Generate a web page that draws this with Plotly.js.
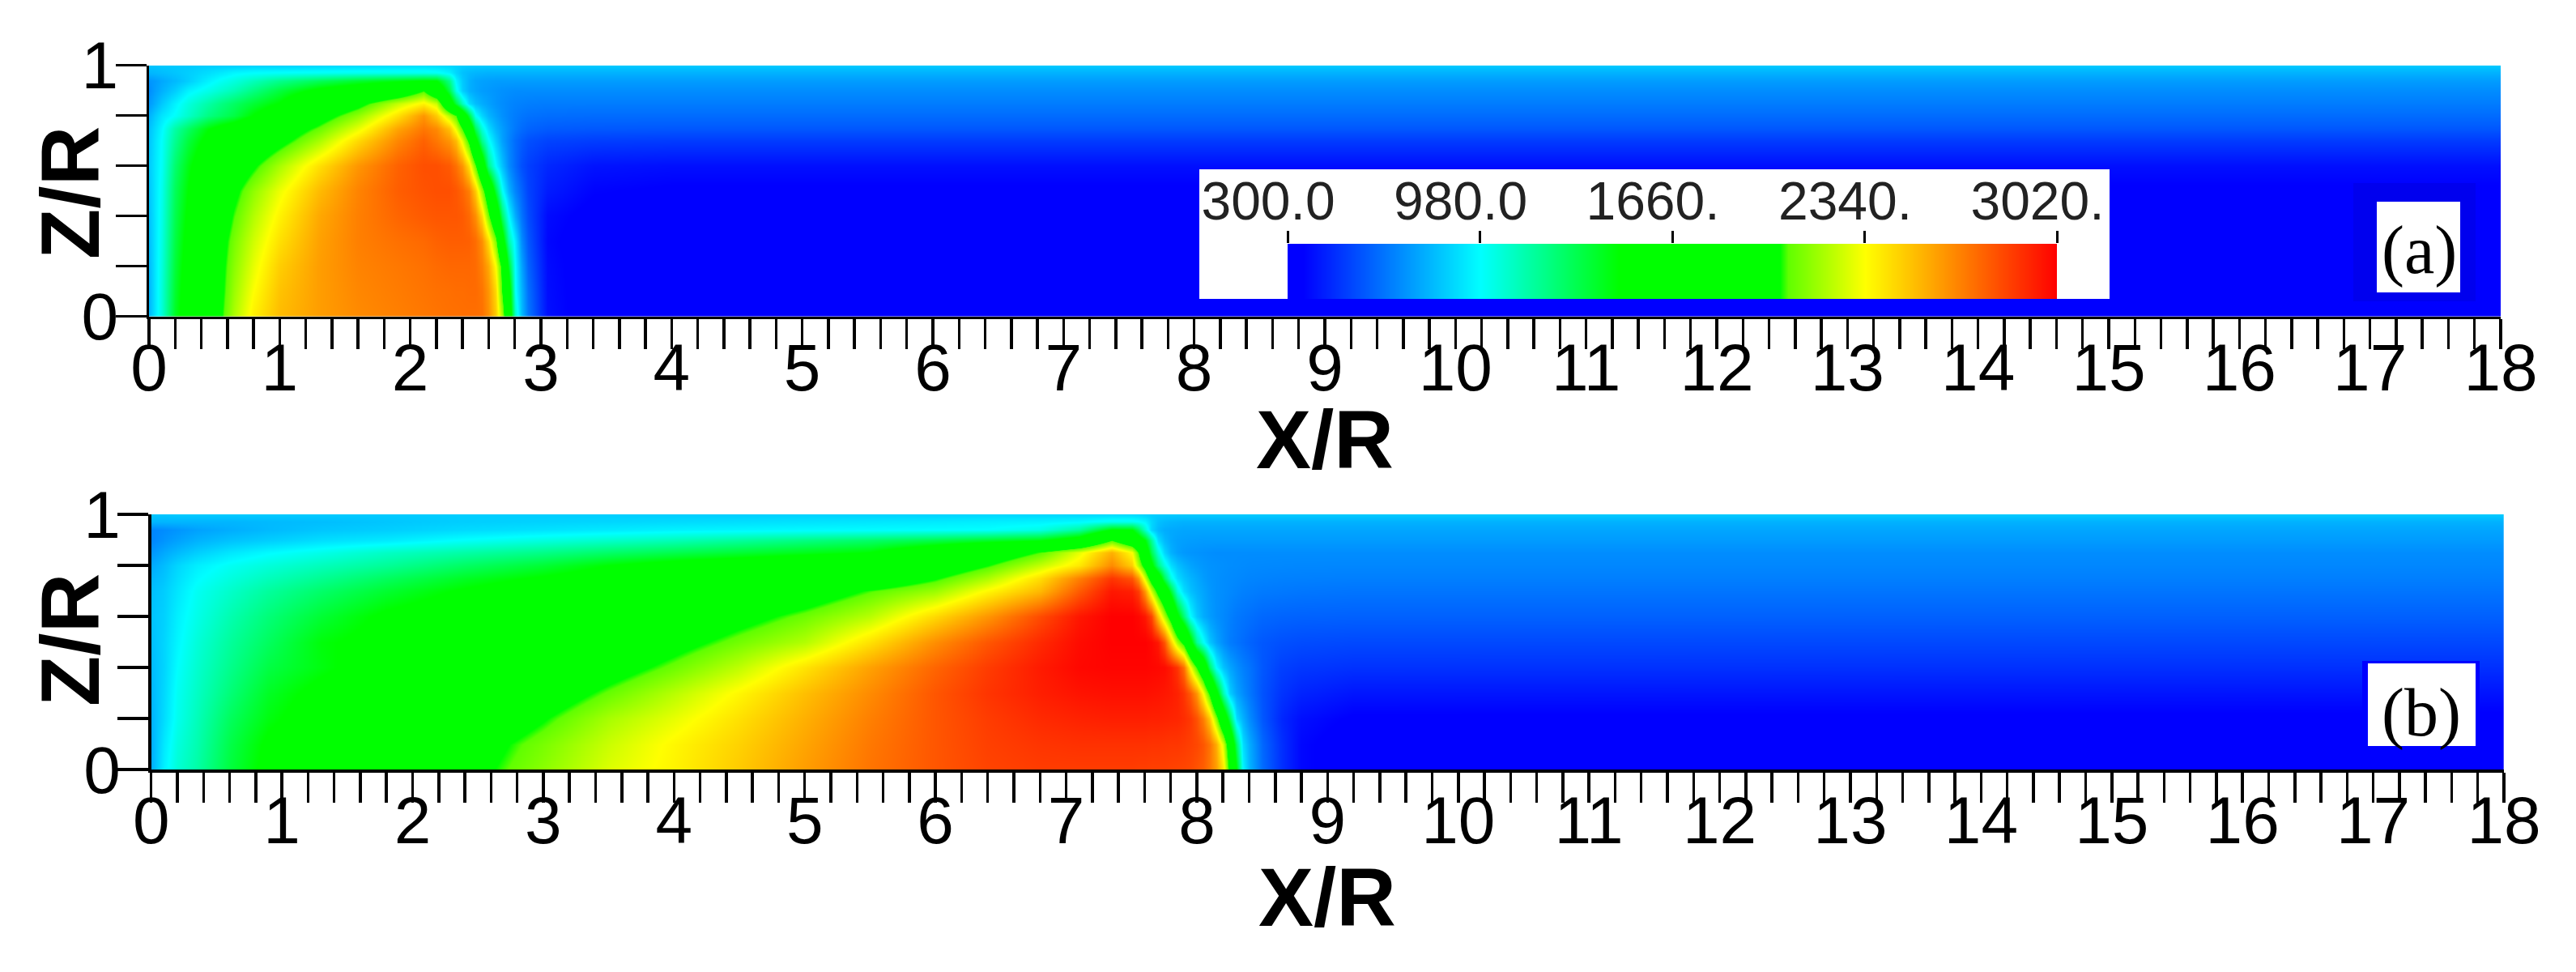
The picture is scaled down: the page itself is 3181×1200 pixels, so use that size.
<!DOCTYPE html>
<html><head><meta charset="utf-8">
<script src="https://cdn.plot.ly/plotly-3.0.1.min.js"></script>
<style>html,body{margin:0;padding:0;background:#fff}</style></head>
<body><div id="chart" style="width:3181px;height:1200px"></div>
<script>
const zRows = [0,.1,.2,.3,.4,.5,.6,.7,.75,.8,.85,.9,.94,.97,1];
const xColsA = [0,.05,.1,.2,.3,.45,.55,.65,.8,1,1.3,1.6,1.9,2.1,2.2,2.3,2.35,2.4,2.45,2.5,2.55,2.6,2.65,2.7,2.75,2.8,2.85,2.9,3.05,3.4,4,18];
const tempA = [
[800,930,1060,1400,1600,1900,2030,2200,2380,2520,2600,2650,2680, 2700,2710,2720,2720,2725,2725,2725,2720,2640,2480,2190,1700,1100,820,650,390,310,300,300],
[800,930,1060,1380,1580,1880,2010,2170,2340,2500,2600,2660,2690, 2710,2720,2725,2730,2730,2735,2735,2710,2620,2440,2040,1620,1000,800,630,385,310,300,300],
[810,930,1050,1360,1560,1860,2000,2140,2300,2470,2600,2670,2700, 2720,2735,2745,2745,2745,2745,2735,2680,2570,2340,1980,1400,980,760,600,380,310,300,300],
[820,930,1040,1340,1530,1830,1980,2110,2260,2420,2590,2680,2720, 2740,2760,2770,2770,2770,2765,2730,2640,2430,2120,1600,1150,940,700,570,370,310,300,300],
[830,930,1030,1320,1500,1780,1930,2060,2210,2370,2570,2680,2750, 2780,2790,2790,2790,2780,2740,2640,2440,2100,1740,1280,980,780,640,540,380,330,320,320],
[840,930,1020,1300,1470,1720,1860,2000,2150,2310,2520,2670,2770, 2800,2810,2810,2790,2750,2680,2480,2160,1820,1360,1000,800,680,600,520,420,360,345,345],
[850,930,1000,1260,1430,1650,1780,1900,2020,2190,2420,2620,2760, 2810,2810,2780,2720,2620,2420,2080,1680,1220,980,830,700,620,550,510,450,400,390,390],
[840,920,990,1190,1350,1530,1620,1700,1850,1980,2190,2440,2660, 2760,2700,2620,2520,2290,2000,1560,1200,1000,860,750,680,620,580,550,520,505,500,500],
[830,900,970,1150,1280,1460,1540,1600,1740,1900,2080,2300,2580, 2700,2650,2500,2300,2040,1750,1300,1050,900,800,740,690,650,620,600,580,572,570,570],
[790,860,920,990,1080,1220,1280,1340,1480,1640,1950,2150,2420, 2620,2480,2210,2060,1720,1360,1000,880,800,750,710,680,660,645,635,625,620,620,620],
[730,790,850,950,1040,1150,1220,1280,1370,1480,1800,1980,2240, 2370,2250,1650,1350,1100,900,820,780,750,720,700,685,675,670,665,660,660,660,660],
[700,750,790,860,950,1020,1070,1120,1220,1350,1520,1640,1800, 2040,1760,1330,1020,860,790,760,740,730,720,710,705,700,700,700,700,700,700,700],
[720,740,770,810,860,950,1000,1040,1110,1200,1300,1380,1440, 1480,1470,1200,960,850,790,760,750,745,740,740,740,740,740,740,740,740,740,740],
[800,810,820,840,860,900,930,960,980,990,1000,1010,1010, 1010,1000,950,880,830,810,800,795,790,790,790,790,790,790,790,790,790,790,790],
[840,840,850,850,850,860,860,860,870,870,880,890,900, 900,890,880,870,860,855,850,850,850,850,850,850,850,850,850,850,850,850,850]
];
const xColsB = [0,.1,.2,.35,.6,.9,1.3,1.8,2.4,3,3.5,4,4.5,5,5.5,6,6.4,6.8,7.1,7.35,7.5,7.55,7.6,7.65,7.7,7.75,7.8,7.85,7.9,7.95,8,8.05,8.1,8.15,8.2,8.25,8.3,8.35,8.4,8.5,8.65,8.8,9.2,18];
const tempB = [
[780,950,1060,1150,1350,1520,1620,1780,1980,2140,2280,2370,2480,2600,2710,2790,2840,2860, 2860,2860,2860,2855,2855,2850,2850,2850,2845,2840,2835,2825,2800,2770,2700,2600,2400,1950,1470,960,800,620,470,370,310,300],
[780,930,1040,1130,1330,1500,1600,1750,1950,2110,2250,2360,2460,2580,2700,2790,2850,2880, 2890,2890,2890,2890,2890,2885,2885,2880,2875,2875,2865,2850,2830,2790,2710,2560,2260,1800,1280,900,780,610,470,370,310,300],
[790,900,1010,1110,1290,1440,1560,1680,1860,2030,2190,2300,2420,2550,2680,2790,2860,2910, 2930,2940,2940,2940,2940,2935,2935,2930,2925,2920,2900,2870,2800,2680,2480,2140,1700,1300,900,790,700,570,450,390,345,340],
[800,890,1000,1090,1240,1400,1520,1640,1780,1930,2080,2220,2360,2510,2650,2790,2880,2940, 2970,2980,2980,2980,2980,2975,2970,2960,2950,2930,2880,2780,2620,2340,2000,1560,1120,860,760,700,650,560,480,440,405,400],
[810,880,980,1070,1200,1340,1440,1560,1700,1830,1960,2090,2230,2410,2590,2750,2860,2950, 3000,3010,3010,3010,3010,3005,3000,2990,2950,2880,2720,2340,2040,1750,1280,980,830,760,710,670,640,570,510,490,475,470],
[820,880,960,1050,1170,1290,1450,1530,1630,1740,1860,1980,2100,2210,2420,2640,2790,2910, 2990,3020,3020,3020,3020,3000,2960,2800,2480,2180,1970,1560,1180,1000,840,760,700,660,640,620,600,570,550,540,532,530],
[830,870,945,1020,1130,1240,1370,1500,1590,1680,1780,1870,1980,2090,2220,2440,2620,2820, 2960,3020,3020,3000,2960,2840,2500,2200,1920,1530,1250,980,850,780,740,710,690,670,650,640,630,610,600,595,592,590],
[820,860,920,1000,1080,1170,1270,1380,1490,1600,1680,1760,1850,1930,2060,2170,2360,2530, 2780,2960,2940,2860,2620,2260,1960,1720,1380,1050,900,830,790,760,730,710,700,690,680,670,665,655,650,645,640,640],
[800,840,900,970,1040,1110,1190,1290,1400,1490,1570,1640,1720,1800,1880,2030,2200,2430, 2680,2880,2800,2620,2270,1900,1680,1310,1040,900,840,800,770,740,720,710,700,695,690,685,680,675,670,668,665,665],
[770,820,880,940,1000,1050,1110,1180,1280,1370,1470,1550,1620,1690,1770,1880,2040,2240, 2400,2650,2470,2200,1930,1530,1230,1040,900,830,790,760,740,725,715,710,705,700,698,695,692,690,688,686,685,685],
[720,770,810,860,920,970,1020,1090,1150,1210,1270,1320,1370,1420,1470,1680,1880,2060, 2300,2550,2340,2040,1680,1320,1060,880,790,750,730,720,715,710,705,700,700,700,700,700,700,700,700,700,700,700],
[680,720,750,790,830,860,900,930,990,1040,1080,1120,1170,1220,1270,1330,1390,1450, 1620,2050,1780,1620,1470,1180,900,810,770,750,745,740,738,735,735,735,735,735,735,735,735,735,735,735,735,735],
[680,700,720,750,780,810,840,860,890,910,930,950,960,970,975,980,985,1030, 1170,1480,1470,1300,1080,880,810,780,770,765,760,760,760,760,760,760,760,760,760,760,760,760,760,760,760,760],
[800,800,800,800,800,810,820,840,860,870,880,890,900,910,920,930,940,950, 970,1010,1010,990,960,880,830,810,800,795,790,790,790,790,790,790,790,790,790,790,790,790,790,790,790,790],
[840,840,850,850,850,850,850,850,860,860,860,860,860,870,870,870,880,880, 880,890,885,880,870,860,855,852,850,850,850,850,850,850,850,850,850,850,850,850,850,850,850,850,850,850]
];
const xTickVals = [0,1,2,3,4,5,6,7,8,9,10,11,12,13,14,15,16,17,18];
const xTickText = ['0','1','2','3','4','5','6','7','8','9','10','11','12','13','14','15','16','17','18'];
const zTickVals = [0,1];
const zTickText = ['0','1'];
const barLevels = [300,354,980,1470,2041,2068,2340,3020];
const barTickVals = [300,980,1660,2340,3020];
const barTickText = ['300.0','980.0','1660.','2340.','3020.'];

const W = 3181, H = 1200;
const px = v => v / W, py = v => 1 - v / H;
const sans = 'Liberation Sans, Arial, sans-serif';
const rect = (x0, x1, y0, y1, fillcolor) => ({type: 'rect', xref: 'paper', yref: 'paper', x0: px(x0), x1: px(x1), y0: py(y1), y1: py(y0), fillcolor, line: {width: 0}, layer: 'above'});
const label = (text, x, y, opts) => Object.assign({xref: 'paper', yref: 'paper', x: px(x), y: py(y), text, showarrow: false, xanchor: 'center', yanchor: 'middle'}, opts);
const axisTitleFont = {family: sans, size: 102, color: '#000', weight: 'bold'};
const panelFont = {family: 'Liberation Serif, serif', size: 84, color: '#000'};
function xAxis(anchor, domain) {
  return {
    domain, anchor, range: [0, 18], showgrid: false, zeroline: false, showline: true, linecolor: '#000', linewidth: 3.5,
    tickmode: 'array', tickvals: xTickVals, ticktext: xTickText, ticks: 'outside', ticklen: 30, tickwidth: 3.5, tickcolor: '#000',
    tickfont: {family: sans, size: 82, color: '#000'}, tickangle: 0, ticklabelstandoff: -41,
    minor: {tick0: 0, dtick: .2, ticks: 'outside', ticklen: 37, tickwidth: 3.5, tickcolor: '#000', showgrid: false}
  };
}
function zAxis(anchor, domain) {
  return {
    domain, anchor, range: [0, 1], showgrid: false, zeroline: false, showline: true, linecolor: '#000', linewidth: 3.5,
    tickmode: 'array', tickvals: zTickVals, ticktext: zTickText, ticks: 'outside', ticklen: 34, tickwidth: 3.5, tickcolor: '#000',
    tickfont: {family: sans, size: 82, color: '#000'}, ticklabelstandoff: -16,
    minor: {tick0: 0, dtick: .2, ticks: 'outside', ticklen: 38, tickwidth: 3.5, tickcolor: '#000', showgrid: false}
  };
}
const data = [
  {type: 'heatmap', x: xColsA, y: zRows, z: tempA, coloraxis: 'coloraxis', zsmooth: 'best', xaxis: 'x', yaxis: 'y', hoverinfo: 'skip'},
  {type: 'heatmap', x: xColsB, y: zRows, z: tempB, coloraxis: 'coloraxis', zsmooth: 'best', xaxis: 'x2', yaxis: 'y2', hoverinfo: 'skip'},
  {type: 'heatmap', x: barLevels, y: [0, 1], z: [barLevels, barLevels], coloraxis: 'coloraxis', zsmooth: 'best', xaxis: 'x4', yaxis: 'y4', hoverinfo: 'skip'}
];
const layout = {
  width: W, height: H, margin: {l: 0, r: 0, t: 0, b: 0}, paper_bgcolor: '#fff', plot_bgcolor: '#fff', showlegend: false,
  xaxis: xAxis('y', [px(184), px(3088)]),
  yaxis: zAxis('x', [py(390.7), py(80.7)]),
  xaxis2: xAxis('y2', [px(186.7), px(3092)]),
  yaxis2: zAxis('x2', [py(950), py(635)]),
  xaxis3: {domain: [px(1481), px(2605)], anchor: 'y3', range: [0, 1], visible: false},
  yaxis3: {domain: [py(369), py(209)], anchor: 'x3', range: [0, 1], visible: false},
  xaxis4: {
    domain: [px(1590), px(2540)], anchor: 'y4', side: 'top', range: [300, 3020], showgrid: false, zeroline: false, showline: false,
    tickmode: 'array', tickvals: barTickVals, ticktext: barTickText, ticks: 'outside', ticklen: 15, tickwidth: 3, tickcolor: '#000',
    tickfont: {family: sans, size: 66, color: '#222'}, tickangle: 0, ticklabelshift: -24, ticklabelstandoff: -12
  },
  yaxis4: {domain: [py(369), py(301)], anchor: 'x4', range: [0, 1], visible: false},
  coloraxis: {
    cmin: 300, cmax: 3020, showscale: false,
    colorscale: [[0,'#0000ff'],[.02,'#0000ff'],[.25,'#00ffff'],[.43,'#00ff00'],[.64,'#00ff00'],[.65,'#60ff00'],[.75,'#ffff00'],[1,'#ff0000']]
  },
  shapes: [
    {type: 'rect', xref: 'x3', yref: 'y3', x0: 0, x1: 1, y0: 0, y1: 1, fillcolor: '#fff', line: {width: 0}, layer: 'below'},
    rect(2906, 3057, 226, 372, '#0000ee'),
    rect(2935, 3038, 249, 361, '#fff'),
    rect(2917, 3062, 816, 936, '#0000ff'),
    rect(2924, 3057, 819, 921, '#fff')
  ],
  annotations: [
    label('X/R', 1636, 543, {font: axisTitleFont}),
    label('X/R', 1639, 1108, {font: axisTitleFont}),
    label('Z/R', 87, 238, {font: axisTitleFont, textangle: -90}),
    label('Z/R', 87, 790, {font: axisTitleFont, textangle: -90}),
    label('(a)', 2987, 309, {font: panelFont}),
    label('(b)', 2990, 880, {font: panelFont})
  ]
};
Plotly.newPlot('chart', data, layout, {displayModeBar: false, staticPlot: true});
</script></body></html>
